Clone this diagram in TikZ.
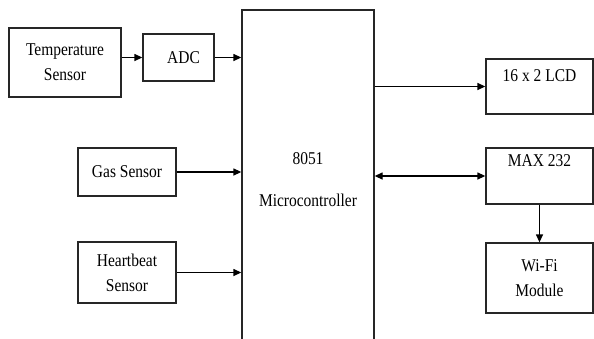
\documentclass[tikz,border=0pt]{standalone}
\usepackage{fontspec}
\setmainfont{Liberation Serif}[FakeStretch=0.86]
\usetikzlibrary{arrows.meta}
\begin{document}
\begin{tikzpicture}[x=1pt,y=-1pt,
  box/.style={draw=black!85,line width=1.3pt,rectangle,inner sep=0pt,align=center,
    font=\fontsize{18}{25}\selectfont},
  conn/.style={line width=1.3pt,-{Triangle[length=8pt,width=7pt]}},
  dconn/.style={line width=1.3pt,{Triangle[length=8pt,width=7pt]}-{Triangle[length=8pt,width=7pt]}}]
\useasboundingbox (0,0) rectangle (594,338);
\fill[white] (0,0) rectangle (594,338);
\node[box,minimum width=112pt,minimum height=69pt] (temp) at (65,62.5) {Temperature\\Sensor};
\node[box,minimum width=71pt,minimum height=47pt] (adc) at (178.5,57.5) {\hspace*{10pt}ADC};
\node[box,minimum width=98pt,minimum height=48pt] (gas) at (127,172) {Gas Sensor};
\node[box,minimum width=98pt,minimum height=61pt] (hb) at (127,272.5) {Heartbeat\\Sensor};
\node[box,minimum width=132pt,minimum height=340pt] (mc) at (308,180) {8051\\[17pt]Microcontroller};
\node[box,minimum width=107pt,minimum height=55pt] (lcd) at (539.5,86.5) {16 x 2 LCD\\[-4pt]\mbox{}};
\node[box,minimum width=107pt,minimum height=56pt] (max) at (539.5,176) {MAX 232\\[6pt]\mbox{}};
\node[box,minimum width=107pt,minimum height=70pt] (wifi) at (539.5,278) {Wi-Fi\\Module};
\draw[conn] (temp.east |- adc) -- (adc.west);
\draw[conn] (adc.east) -- (adc -| mc.west);
\draw[conn] (gas.east) -- (gas -| mc.west);
\draw[conn] (hb.east) -- (hb -| mc.west);
\draw[conn] (mc.east |- lcd) -- (lcd.west);
\draw[dconn] (mc.east |- max) -- (max.west);
\draw[conn] (max.south) -- (wifi.north);
\end{tikzpicture}
\end{document}
